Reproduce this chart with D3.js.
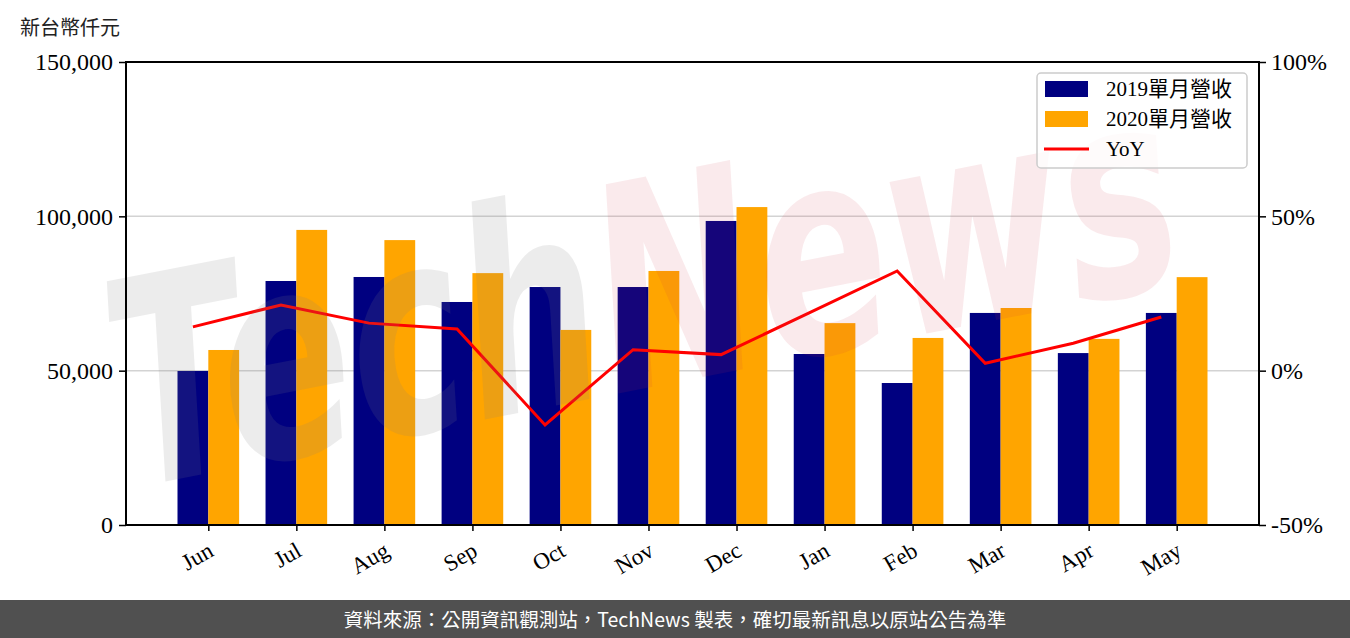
<!DOCTYPE html>
<html><head><meta charset="utf-8">
<script src="https://cdn.jsdelivr.net/npm/d3@7/dist/d3.min.js"></script>
<style>body{margin:0;background:#fff}svg{display:block}</style>
</head><body>
<svg id="c" width="1350" height="638"></svg>
<script>
const months = ["Jun","Jul","Aug","Sep","Oct","Nov","Dec","Jan","Feb","Mar","Apr","May"];
const rev2019 = [49900, 79050, 80350, 72250, 77100, 77100, 98500, 55400, 46000, 68700, 55700, 68700];
const rev2020 = [56700, 95600, 92300, 81600, 63200, 82300, 103000, 65400, 60600, 70300, 60300, 80300];
const yoy = [14.2, 21.3, 15.4, 13.5, -17.6, 6.8, 5.2, 18.7, 32.3, 2.4, 8.9, 17.4];
const leftTicks = [0, 50000, 100000, 150000];
const rightTicks = [-50, 0, 50, 100];
const seriesNames = ["2019單月營收", "2020單月營收", "YoY"];
const yLabel = "新台幣仟元";
const footer = "資料來源：公開資訊觀測站，TechNews 製表，確切最新訊息以原站公告為準";

const C19 = "#000080", C20 = "#FFA500", CL = "#FF0000";
const serif = "'Liberation Serif','Noto Sans CJK TC',serif";
const L = 126, R = 1259, T = 62, B = 525;

const svg = d3.select("#c");
const x = d3.scaleLinear().domain([-0.935, 11.935]).range([L, R]);
const y = d3.scaleLinear().domain([0, 150000]).range([B, T]);
const yR = d3.scaleLinear().domain([-50, 100]).range([B, T]);
const bw = 0.35;

// grid
svg.append("g").selectAll("line").data(leftTicks.filter(d => d > 0 && d < 150000)).join("line")
  .attr("x1", L).attr("x2", R).attr("y1", d => y(d)).attr("y2", d => y(d))
  .attr("stroke", "#d3d3d3").attr("stroke-width", 1.5);

// bars
svg.append("g").selectAll("rect").data(rev2019).join("rect")
  .attr("x", (d, i) => x(i - bw)).attr("width", (d, i) => x(i) - x(i - bw))
  .attr("y", d => y(d)).attr("height", d => y(0) - y(d)).attr("fill", C19);
svg.append("g").selectAll("rect").data(rev2020).join("rect")
  .attr("x", (d, i) => x(i)).attr("width", (d, i) => x(i + bw) - x(i))
  .attr("y", d => y(d)).attr("height", d => y(0) - y(d)).attr("fill", C20);

// line
svg.append("path").datum(yoy)
  .attr("d", d3.line().x((d, i) => x(i - bw / 2)).y(d => yR(d)))
  .attr("fill", "none").attr("stroke", CL).attr("stroke-width", 3);

// watermark
const wm = svg.append("text")
  .attr("transform", "translate(132,488) rotate(-11) scale(0.68,1)")
  .attr("font-family", "'DejaVu Sans'").attr("font-weight", "bold").attr("font-style", "italic")
  .attr("font-size", 285);
wm.append("tspan").text("Tech").attr("fill", "#808080").attr("fill-opacity", 0.15);
wm.append("tspan").text("News").attr("fill", "#cc3344").attr("fill-opacity", 0.1);

// axes
const ax = d3.axisBottom(x).tickValues(d3.range(12)).tickFormat("").tickSize(6).tickSizeOuter(0);
const gx = svg.append("g").attr("transform", `translate(0,${B})`).call(ax);
const ay = d3.axisLeft(y).tickValues(leftTicks).tickFormat(d3.format(",")).tickSize(7).tickSizeOuter(0).tickPadding(6);
const gy = svg.append("g").attr("transform", `translate(${L},0)`).call(ay);
const ayR = d3.axisRight(yR).tickValues(rightTicks).tickFormat(d => d + "%").tickSize(7).tickSizeOuter(0).tickPadding(5);
const gyR = svg.append("g").attr("transform", `translate(${R},0)`).call(ayR);
[gx, gy, gyR].forEach(g => {
  g.select(".domain").remove();
  g.selectAll(".tick line").attr("stroke", "#000").attr("stroke-width", 1.5);
  g.selectAll("text").attr("font-family", serif).attr("font-size", 24).attr("fill", "#000");
});
// month labels
svg.append("g").selectAll("text").data(months).join("text")
  .attr("transform", (d, i) => `translate(${x(i) - 2},540) rotate(-30)`)
  .attr("text-anchor", "end").attr("dy", "0.75em")
  .attr("font-family", serif).attr("font-size", 23).attr("fill", "#000").text(d => d);

// frame
svg.append("rect").attr("x", L).attr("y", T).attr("width", R - L).attr("height", B - T)
  .attr("fill", "none").attr("stroke", "#000").attr("stroke-width", 2);

// y label
svg.append("text").attr("x", 20).attr("y", 35).attr("font-family", "'Noto Sans CJK TC'")
  .attr("font-size", 20).attr("fill", "#222").text(yLabel);

// legend
const lg = svg.append("g");
lg.append("rect").attr("x", 1037).attr("y", 73).attr("width", 210).attr("height", 95)
  .attr("rx", 4).attr("fill", "#fff").attr("fill-opacity", 0.8).attr("stroke", "#ccc").attr("stroke-width", 1.5);
const cols = [C19, C20];
seriesNames.forEach((n, i) => {
  const cy = 89 + i * 30;
  if (i < 2) lg.append("rect").attr("x", 1045).attr("y", cy - 8).attr("width", 43).attr("height", 16).attr("fill", cols[i]);
  else lg.append("line").attr("x1", 1044).attr("x2", 1089).attr("y1", cy).attr("y2", cy).attr("stroke", CL).attr("stroke-width", 3);
  lg.append("text").attr("x", 1106).attr("y", cy).attr("dy", "0.35em").attr("font-family", serif)
    .attr("font-size", 21).attr("fill", "#000").text(n);
});

// footer
svg.append("rect").attr("x", 0).attr("y", 600).attr("width", 1350).attr("height", 38).attr("fill", "#505050");
svg.append("text").attr("x", 675).attr("y", 627).attr("text-anchor", "middle")
  .attr("font-family", "'Noto Sans CJK TC'").attr("font-size", 19.5).attr("fill", "#fff").text(footer);
</script>
</body></html>
